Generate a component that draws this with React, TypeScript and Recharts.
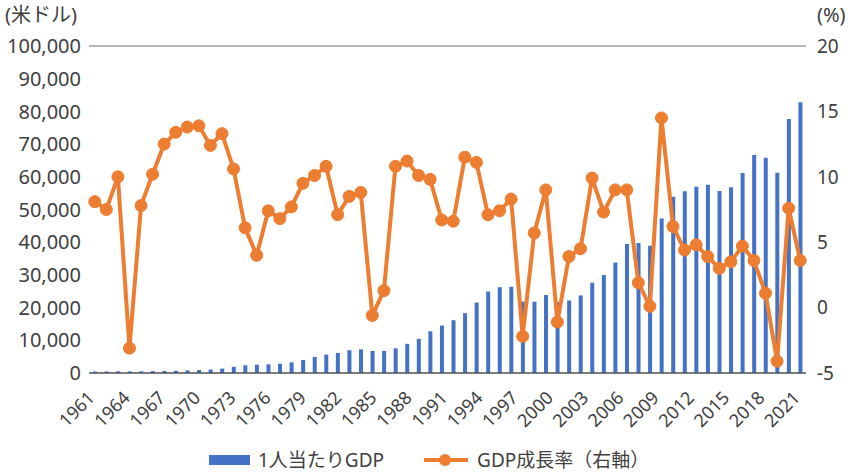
import React from 'react';
import { ComposedChart, Bar, Line, XAxis, YAxis, CartesianGrid } from 'recharts';

const years = [
  '1961','1962','1963','1964','1965','1966','1967','1968','1969','1970',
  '1971','1972','1973','1974','1975','1976','1977','1978','1979','1980',
  '1981','1982','1983','1984','1985','1986','1987','1988','1989','1990',
  '1991','1992','1993','1994','1995','1996','1997','1998','1999','2000',
  '2001','2002','2003','2004','2005','2006','2007','2008','2009','2010',
  '2011','2012','2013','2014','2015','2016','2017','2018','2019','2020',
  '2021','2022',
];

const gdpPerCapita = [
  449, 472, 511, 485, 517, 567, 626, 708, 813, 926,
  1072, 1353, 1900, 2367, 2545, 2629, 2838, 3251, 3983, 4917,
  5615, 6126, 6952, 7241, 6724, 6762, 7544, 8916, 10431, 12763,
  14514, 16136, 18292, 21553, 24915, 26233, 26376, 21829, 21797, 23853,
  21701, 22160, 23730, 27609, 29961, 33769, 39433, 39721, 38927, 47237,
  53891, 55546, 56967, 57563, 55647, 56828, 61176, 66679, 65831, 61274,
  77710, 82808,
];

const growthRate = [
  8.1, 7.5, 10.0, -3.1, 7.8, 10.2, 12.5, 13.4, 13.8, 13.9,
  12.4, 13.3, 10.6, 6.1, 4.0, 7.4, 6.8, 7.7, 9.5, 10.1,
  10.8, 7.1, 8.5, 8.8, -0.6, 1.3, 10.8, 11.2, 10.1, 9.8,
  6.7, 6.6, 11.5, 11.1, 7.1, 7.4, 8.3, -2.2, 5.7, 9.0,
  -1.1, 3.9, 4.5, 9.9, 7.3, 9.0, 9.0, 1.9, 0.1, 14.5,
  6.2, 4.4, 4.8, 3.9, 3.0, 3.5, 4.7, 3.6, 1.1, -4.1,
  7.6, 3.6,
];

const leftTicks = [0, 10000, 20000, 30000, 40000, 50000, 60000, 70000, 80000, 90000, 100000];
const rightTicks = [-5, 0, 5, 10, 15, 20];

const labels = {
  bar: '1人当たりGDP',
  line: 'GDP成長率（右軸）',
  leftUnit: '(米ドル)',
  rightUnit: '(%)',
};

const data = years.map((y, i) => ({ year: y, gdp: gdpPerCapita[i], growth: growthRate[i] }));

const FONT = "'Noto Sans', 'Noto Sans CJK JP', sans-serif";
const TEXT = '#404040';
const BLUE = '#4472C4';
const ORANGE = '#ED7D31';

const XTick = (props: any) => {
  const { x, y, payload } = props;
  const idx = Math.max(0, years.indexOf(String(payload.value)));
  const ax = x + 1 + idx * 0.19;
  const ay = y + 18;
  return (
    <text
      x={ax}
      y={ay}
      transform={`rotate(-45, ${ax}, ${ay})`}
      textAnchor="end"
      fontSize={18}
      fill={TEXT}
      fontFamily={FONT}
    >
      {payload.value}
    </text>
  );
};

export default function App() {
  return (
    <div style={{ position: 'absolute', left: 0, top: 0, width: 854, height: 472, background: '#fff', fontFamily: FONT, overflow: 'hidden' }}>
      <ComposedChart
        width={854}
        height={472}
        data={data}
        margin={{ top: 46, right: 0, bottom: 0, left: 0 }}
        barCategoryGap={0}
      >
        <CartesianGrid vertical={false} stroke="#707070" strokeWidth={1} />
        <XAxis
          dataKey="year"
          interval={2}
          tickLine={false}
          axisLine={{ stroke: '#404040' }}
          tick={<XTick />}
          height={99}
        />
        <YAxis
          yAxisId="left"
          orientation="left"
          domain={[0, 100000]}
          ticks={leftTicks}
          width={89}
          tickLine={false}
          axisLine={false}
          tickFormatter={(v: number) => v.toLocaleString('en-US')}
          tick={{ fontSize: 20, fill: TEXT, fontFamily: FONT }}
          interval={0}
        />
        <YAxis
          yAxisId="right"
          orientation="right"
          domain={[-5, 20]}
          ticks={rightTicks}
          width={48}
          tickLine={false}
          axisLine={false}
          tickMargin={5}
          tick={{ fontSize: 19, fill: TEXT, fontFamily: FONT, textAnchor: 'start' }}
          interval={0}
        />
        <Bar yAxisId="left" dataKey="gdp" fill={BLUE} barSize={4} isAnimationActive={false} />
        <Line
          yAxisId="right"
          dataKey="growth"
          stroke={ORANGE}
          strokeWidth={4}
          dot={{ r: 6, fill: ORANGE, stroke: ORANGE, strokeWidth: 1 }}
          activeDot={false}
          isAnimationActive={false}
        />
      </ComposedChart>
      <div style={{ position: 'absolute', left: 5, top: 1, fontSize: 20, lineHeight: '28px', color: TEXT, whiteSpace: 'nowrap' }}>{labels.leftUnit}</div>
      <div style={{ position: 'absolute', left: 817, top: 1, fontSize: 20, lineHeight: '28px', color: TEXT, whiteSpace: 'nowrap' }}>{labels.rightUnit}</div>
      <div style={{ position: 'absolute', left: 209, top: 449, height: 22, lineHeight: '22px', display: 'flex', alignItems: 'center', fontSize: 19, color: TEXT, whiteSpace: 'nowrap' }}>
        <svg width={42} height={10} style={{ marginRight: 7 }}>
          <rect x={0} y={0} width={41} height={10} fill={BLUE} />
        </svg>
        <span style={{ lineHeight: '22px' }}>{labels.bar}</span>
        <svg width={46} height={14} style={{ marginLeft: 40, marginRight: 7 }}>
          <line x1={0} y1={7} x2={44} y2={7} stroke={ORANGE} strokeWidth={4} />
          <circle cx={21} cy={7} r={6} fill={ORANGE} />
        </svg>
        <span style={{ lineHeight: '22px' }}>{labels.line}</span>
      </div>
    </div>
  );
}
